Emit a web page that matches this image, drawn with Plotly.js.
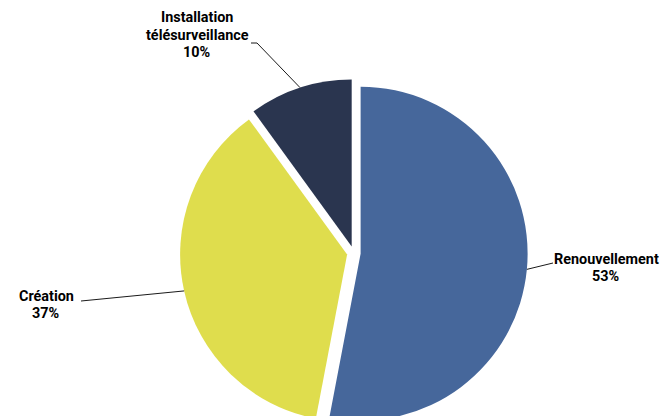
<!DOCTYPE html>
<html>
<head>
<meta charset="utf-8">
<script src="https://cdn.plot.ly/plotly-3.0.1.min.js"></script>
<style>
html,body{margin:0;padding:0;overflow:hidden;background:#fff;width:661px;height:416px;}
#chart{width:661px;height:440px;}
</style>
</head>
<body>
<div id="chart"></div>
<script>
// ---- data ----
const labels = ['Renouvellement', 'Création', 'Installation télésurveillance'];
const labelLines = [['Renouvellement'], ['Création'], ['Installation', 'télésurveillance']];
const values = [53, 37, 10];
const colors = ['#46679b', '#dfdd4d', '#2a354f'];

// ---- layout geometry ----
const W = 661, H = 440;
const cx = 353.8, cy = 253, R = 167, pull = 0.041;
const S = 2 * R * (1 + pull);
const FONT = 'Roboto, Liberation Sans, Arial, sans-serif';
const FS = 14.4;
const LINE_GAP = 17.5;
// text block centre and leader elbow points (pixels)
const labelPos = [
  {x: 606, y: 268, elbow: [[553, 263]]},
  {x: 46, y: 305, elbow: [[81, 301]]},
  {x: 197, y: 35, elbow: [[257, 43], [251, 43]]}
];

const px = x => x / W;
const py = y => 1 - y / H;

const total = values.reduce((a, b) => a + b, 0);
const annotations = [];
const shapes = [];
let cum = 0;
values.forEach((v, i) => {
  const theta = 2 * Math.PI * (cum + v / 2) / total;
  cum += v;
  const rr = R * (1 + pull);
  const ptx = cx + rr * Math.sin(theta);
  const pty = cy - rr * Math.cos(theta);
  const lines = labelLines[i].concat([Math.round(v / total * 100) + '%']);
  const pos = labelPos[i];
  const y0 = pos.y - (lines.length - 1) * LINE_GAP / 2;
  lines.forEach((t, k) => {
    annotations.push({
      xref: 'paper', yref: 'paper', x: px(pos.x), y: py(y0 + k * LINE_GAP),
      xanchor: 'center', yanchor: 'middle', showarrow: false, text: '<b>' + t + '</b>',
      font: {family: FONT, size: FS, color: '#000'}
    });
  });
  let prev = [ptx, pty];
  pos.elbow.forEach(p => {
    shapes.push({type: 'line', xref: 'paper', yref: 'paper',
      x0: px(prev[0]), y0: py(prev[1]), x1: px(p[0]), y1: py(p[1]),
      line: {color: '#1a1a1a', width: 1}});
    prev = p;
  });
});

const trace = {
  type: 'pie',
  labels: labels,
  values: values,
  sort: false,
  direction: 'clockwise',
  rotation: 0,
  pull: pull,
  textinfo: 'none',
  hoverinfo: 'label+percent',
  marker: {colors: colors, line: {width: 0}},
  domain: {x: [(cx - S / 2) / W, (cx + S / 2) / W], y: [1 - (cy + S / 2) / H, 1 - (cy - S / 2) / H]},
  showlegend: false
};

Plotly.newPlot('chart', [trace], {
  width: W, height: H,
  margin: {l: 0, r: 0, t: 0, b: 0},
  paper_bgcolor: '#fff',
  showlegend: false,
  annotations: annotations,
  shapes: shapes
}, {displayModeBar: false, staticPlot: true});
</script>
</body>
</html>
